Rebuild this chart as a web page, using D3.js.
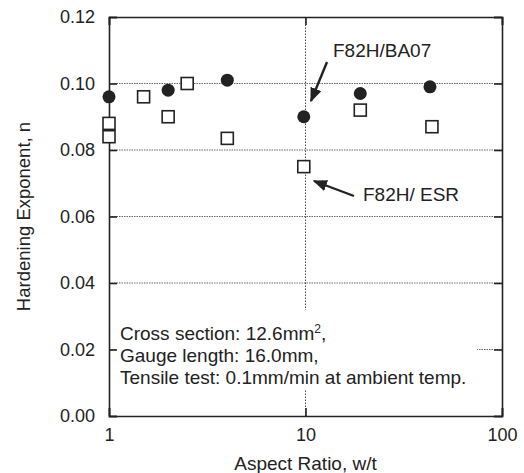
<!DOCTYPE html>
<html>
<head>
<meta charset="utf-8">
<script src="https://cdn.jsdelivr.net/npm/d3@7"></script>
<style>
  body { margin: 0; background: #fff; }
  text { font-family: "Liberation Sans", Arial, sans-serif; fill: #222; }
</style>
</head>
<body>
<div id="container"></div>
<script>
// data
const ba07X = [1, 2, 4, 9.8, 19, 43];
const ba07N = [0.096, 0.098, 0.101, 0.090, 0.097, 0.099];
const esrX = [1, 1, 1.5, 2, 2.5, 4, 9.8, 19, 44];
const esrN = [0.088, 0.084, 0.096, 0.090, 0.100, 0.0835, 0.075, 0.092, 0.087];
const yTicks = [0, 0.02, 0.04, 0.06, 0.08, 0.10, 0.12];
const xTicks = [1, 10, 100];
const noteLines = ["Cross section: 12.6mm", "Gauge length: 16.0mm,", "Tensile test: 0.1mm/min at ambient temp."];

const width = 524, height = 473,
  margin = { top: 17, right: 22, bottom: 57, left: 109 };

const svg = d3.select("#container").append("svg")
  .attr("width", width)
  .attr("height", height);

const x = d3.scaleLog().domain([1, 100]).range([margin.left, width - margin.right]);
const y = d3.scaleLinear().domain([0, 0.12]).range([height - margin.bottom, margin.top]);

const ink = "#222";

// gridlines
svg.append("g")
  .selectAll("line")
  .data(yTicks.slice(1, -1))
  .join("line")
  .attr("x1", x(1)).attr("x2", x(100))
  .attr("y1", d => y(d)).attr("y2", d => y(d))
  .attr("stroke", "#666").attr("stroke-width", 1).attr("stroke-dasharray", "1.5,1");

svg.append("line")
  .attr("x1", x(10)).attr("x2", x(10))
  .attr("y1", y(0)).attr("y2", y(0.12))
  .attr("stroke", "#444").attr("stroke-width", 1).attr("stroke-dasharray", "1.5,1.5");

// note box (white, hides the grid)
svg.append("rect")
  .attr("x", 116).attr("y", 310)
  .attr("width", 361).attr("height", 79)
  .attr("fill", "#fff");

const note = svg.append("text")
  .attr("font-size", 19);
noteLines.forEach((t, i) => {
  note.append("tspan")
    .attr("x", 120)
    .attr("y", 340 + i * 22)
    .text(t);
  if (i == 0) {
    note.append("tspan").attr("dy", -7).attr("font-size", 12).text("2");
    note.append("tspan").attr("dy", 7).text(",");
  }
});

// axes
const yLeft = d3.axisLeft(y).tickValues(yTicks).tickSize(-8).tickPadding(14)
  .tickFormat(d3.format(".2f"));
const yRight = d3.axisRight(y).tickValues(yTicks).tickSize(-8).tickFormat("");
const xBottom = d3.axisBottom(x).tickValues(xTicks).tickSize(-8).tickPadding(12)
  .tickFormat(d3.format("d"));
const xTop = d3.axisTop(x).tickValues(xTicks).tickSize(-8).tickFormat("");

function styleAxis(g) {
  g.select(".domain").attr("stroke", ink).attr("stroke-width", 1.6);
  g.selectAll(".tick line").attr("stroke", ink).attr("stroke-width", 1.6);
  g.selectAll("text").attr("font-size", 18).attr("fill", ink)
    .style("font-family", "'Liberation Sans', Arial, sans-serif");
}

svg.append("g").attr("transform", `translate(${margin.left},0)`).call(yLeft).call(styleAxis);
svg.append("g").attr("transform", `translate(${width - margin.right},0)`).call(yRight).call(styleAxis);
svg.append("g").attr("transform", `translate(0,${height - margin.bottom})`).call(xBottom).call(styleAxis);
svg.append("g").attr("transform", `translate(0,${margin.top})`).call(xTop).call(styleAxis);

// axis titles
svg.append("text")
  .attr("x", x(10)).attr("y", 470)
  .attr("text-anchor", "middle")
  .attr("font-size", 19)
  .text("Aspect Ratio, w/t");

svg.append("text")
  .attr("transform", `translate(30,${(y(0) + y(0.12)) / 2}) rotate(-90)`)
  .attr("text-anchor", "middle")
  .attr("font-size", 18.5)
  .text("Hardening Exponent, n");

// points
svg.append("g")
  .selectAll("rect")
  .data(esrX.map((d, i) => [d, esrN[i]]))
  .join("rect")
  .attr("x", d => x(d[0]) - 6)
  .attr("y", d => y(d[1]) - 6)
  .attr("width", 12).attr("height", 12)
  .attr("fill", "#fff")
  .attr("stroke", ink).attr("stroke-width", 1.6);

svg.append("g")
  .selectAll("circle")
  .data(ba07X.map((d, i) => [d, ba07N[i]]))
  .join("circle")
  .attr("cx", d => x(d[0]))
  .attr("cy", d => y(d[1]))
  .attr("r", 6.5)
  .attr("fill", ink);

// annotations
svg.append("defs").append("marker")
  .attr("id", "head")
  .attr("viewBox", "0 0 10 10")
  .attr("refX", 9).attr("refY", 5)
  .attr("markerWidth", 6).attr("markerHeight", 6)
  .attr("markerUnits", "strokeWidth")
  .attr("orient", "auto")
  .append("path")
  .attr("d", "M0,1 L10,5 L0,9 Z")
  .attr("fill", ink);

svg.append("line")
  .attr("x1", 327).attr("y1", 62)
  .attr("x2", 311).attr("y2", 101)
  .attr("stroke", ink).attr("stroke-width", 2.4)
  .attr("marker-end", "url(#head)");

svg.append("line")
  .attr("x1", 354).attr("y1", 196)
  .attr("x2", 314).attr("y2", 181)
  .attr("stroke", ink).attr("stroke-width", 2.4)
  .attr("marker-end", "url(#head)");

svg.append("text")
  .attr("x", 333).attr("y", 57)
  .attr("font-size", 19)
  .text("F82H/BA07");

svg.append("text")
  .attr("x", 363).attr("y", 201)
  .attr("font-size", 19)
  .text("F82H/ ESR");
</script>
</body>
</html>
